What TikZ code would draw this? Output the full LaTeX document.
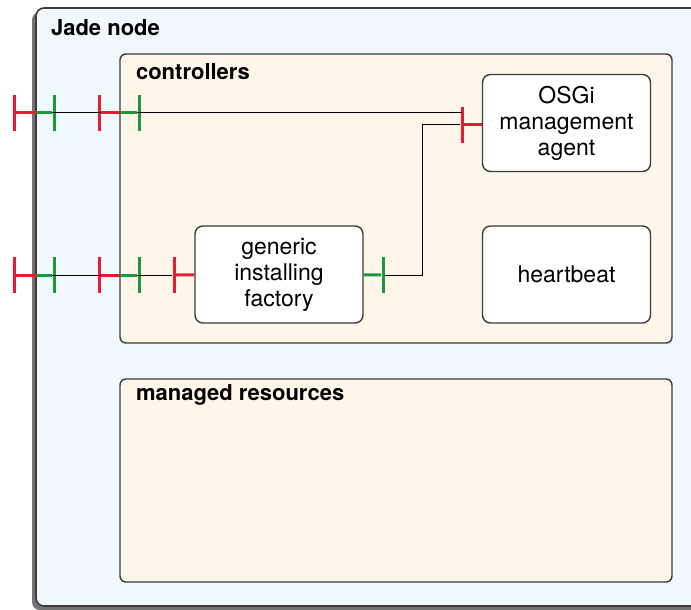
\documentclass[tikz,border=0pt]{standalone}
\usepackage{fontspec}
\setmainfont{TeX Gyre Heros}
\usepackage{xcolor}
\usetikzlibrary{shadows}
\definecolor{jadeblue}{RGB}{239,248,253}
\definecolor{ctrlcream}{RGB}{253,246,233}
\definecolor{edgegray}{RGB}{60,60,60}
\definecolor{portred}{RGB}{232,28,48}
\definecolor{portgreen}{RGB}{30,150,60}

\begin{document}
\begin{tikzpicture}[x=0.5pt, y=-0.5pt, font=\fontsize{11.5}{13}\selectfont,
    jadebox/.style={draw=edgegray, line width=0.8pt, fill=jadeblue, rounded corners=4pt,
        drop shadow={shadow xshift=-2pt, shadow yshift=-2pt, fill=black, opacity=0.55}},
    ctrlbox/.style={draw=edgegray, line width=0.7pt, fill=ctrlcream, rounded corners=3pt},
    compbox/.style={draw=edgegray, line width=0.7pt, fill=white, rounded corners=4pt,
        minimum width=84pt, minimum height=48.5pt, align=center},
    title/.style={anchor=west, font=\fontsize{11}{13}\selectfont\bfseries},
    reqtick/.style={fill=portred, minimum width=1.5pt, minimum height=18pt, inner sep=0pt},
    provtick/.style={fill=portgreen, minimum width=1.5pt, minimum height=18pt, inner sep=0pt},
    reqwire/.style={draw=portred, line width=1.5pt},
    provwire/.style={draw=portgreen, line width=1.5pt},
    wire/.style={draw=black, line width=0.5pt}]
    \useasboundingbox (0,0) rectangle (691,610);
    \clip (0,0) rectangle (691,610);

    % containers
    \draw[jadebox] (36,8) rectangle (705,606);
    \node[title] (jadetitle) at (44,28) {Jade node};
    \draw[ctrlbox] (120,54) rectangle (672,343);
    \node[title] (ctrltitle) at (129,72) {controllers};
    \draw[ctrlbox] (120,379) rectangle (672,582);
    \node[title] (restitle) at (129,395) {managed resources};

    % ports
    \node[reqtick] (a1) at (14,113) {};
    \node[provtick] (a2) at (54,113) {};
    \node[reqtick] (a3) at (99,113) {};
    \node[provtick] (a4) at (139,113) {};
    \node[reqtick] (b1) at (14,275) {};
    \node[provtick] (b2) at (54,275) {};
    \node[reqtick] (b3) at (99,275) {};
    \node[provtick] (b4) at (139,275) {};
    \node[reqtick] (b5) at (174,275) {};
    \node[provtick] (f1) at (383,275) {};
    \node[reqtick] (o1) at (462,125) {};

    % components
    \node[compbox] (factory) at (279,274.5) {generic\\installing\\factory};
    \node[compbox] (osgi) at (566.5,123) {OSGi\\management\\agent};
    \node[compbox] (heartbeat) at (566.5,274.5) {heartbeat};

    % bindings
    \draw[wire] (a1) -- (a1 -| o1);
    \draw[wire] (b1) -- (b5);
    \draw[wire] (f1) -- ++(39,0) |- (o1);

    \draw[reqwire] (a1) -- ++(22,0);
    \draw[provwire] (a2) -- ++(-18,0);
    \draw[reqwire] (a3) -- ++(21,0);
    \draw[provwire] (a4) -- ++(-19,0);
    \draw[reqwire] (b1) -- ++(22,0);
    \draw[provwire] (b2) -- ++(-18,0);
    \draw[reqwire] (b3) -- ++(21,0);
    \draw[provwire] (b4) -- ++(-19,0);
    \draw[reqwire] (b5) -- (factory);
    \draw[provwire] (f1) -- (factory);
    \draw[reqwire] (o1) -- (o1 -| osgi.west);
\end{tikzpicture}
\end{document}
